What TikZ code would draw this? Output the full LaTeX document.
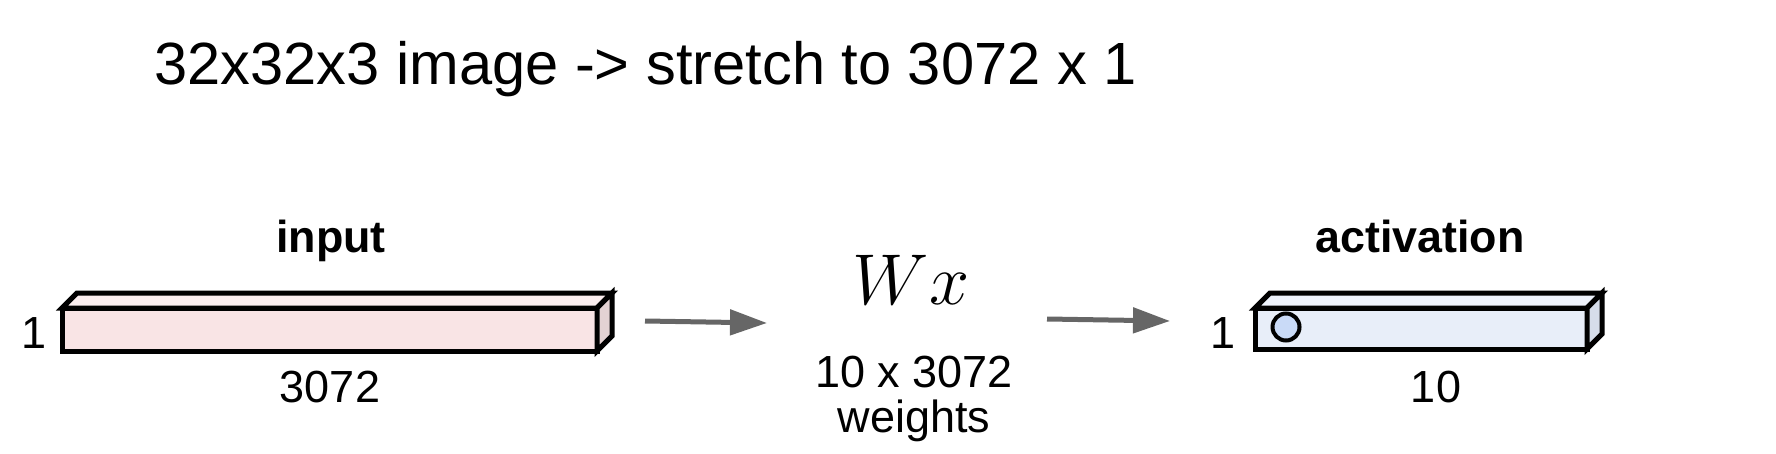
\documentclass[tikz,border=0pt]{standalone}
\usepackage{fix-cm}
\usepackage{fontspec}
\setmainfont{Liberation Sans}
\usetikzlibrary{arrows.meta}
\definecolor{inFront}{HTML}{F9E4E5}
\definecolor{inTop}{HTML}{FBEEEF}
\definecolor{inSide}{HTML}{E3D2D3}
\definecolor{acFront}{HTML}{E8EEF9}
\definecolor{acTop}{HTML}{EEF2FB}
\definecolor{acSide}{HTML}{D6DDEA}
\definecolor{dotFill}{HTML}{C9DAF7}
\definecolor{arrowGray}{HTML}{666666}
\begin{document}
\begin{tikzpicture}[x=0.5pt,y=-0.5pt,
  facebox/.style={draw=black, line width=2.5pt, inner sep=0pt, anchor=north west, outer sep=0pt},
  face/.style={draw=black, line width=2.5pt},
  flowarrow/.style={draw=arrowGray, line width=2.5pt, -{Triangle[length=18.5pt,width=12.5pt]}},
  lbl/.style={font=\fontsize{22.5}{26}\selectfont, inner sep=0pt},
  head/.style={font=\fontsize{22.4}{26}\selectfont\bfseries, inner sep=0pt}]
\useasboundingbox (0,0) rectangle (1776,454);
% title
\node[font=\fontsize{29.8}{34}\selectfont, anchor=base west, inner sep=0pt] (title) at (154,85) {32x32x3 image -> stretch to 3072 x 1};
% input box
\node[facebox, fill=inFront, minimum width=267.5pt, minimum height=21.5pt] (in) at (62,308) {};
\filldraw[face, fill=inTop] (in.north west) -- ++(15,-15) -- ([shift={(15,-15)}]in.north east) -- (in.north east) -- cycle;
\filldraw[face, fill=inSide] (in.north east) -- ++(15,-15) -- ([shift={(15,-15)}]in.south east) -- (in.south east) -- cycle;
\node[head, anchor=base] (inlbl) at (331,252) {input};
\node[lbl, anchor=base] (inone) at (34,348) {1};
\node[lbl, anchor=base] (inlen) at (330,402) {3072};
% activation box
\node[facebox, fill=acFront, minimum width=166pt, minimum height=20.5pt] (act) at (1255,308) {};
\filldraw[face, fill=acTop] (act.north west) -- ++(15,-15) -- ([shift={(15,-15)}]act.north east) -- (act.north east) -- cycle;
\filldraw[face, fill=acSide] (act.north east) -- ++(15,-15) -- ([shift={(15,-15)}]act.south east) -- (act.south east) -- cycle;
\node[circle, draw=black, line width=2pt, fill=dotFill, minimum size=13.5pt, inner sep=0pt] (dot) at (1286,327) {};
\node[head, anchor=base] (aclbl) at (1420,252) {activation};
\node[lbl, anchor=base] (acone) at (1223,348) {1};
\node[lbl, anchor=base] (aclen) at (1436,402) {10};
% weights
\node[font=\fontsize{36}{42}\selectfont, anchor=base, inner sep=0pt] (wx) at (911,304) {$Wx$};
\node[lbl, anchor=base] (wdim) at (914,387) {10 x 3072};
\node[lbl, anchor=base] (wtxt) at (914,432) {weights};
% arrows
\coordinate (a1s) at (645,321);
\coordinate (a1e) at (767,323);
\coordinate (a2s) at (1047,319);
\coordinate (a2e) at (1170,321);
\draw[flowarrow] (a1s) -- (a1e);
\draw[flowarrow] (a2s) -- (a2e);
\end{tikzpicture}
\end{document}
